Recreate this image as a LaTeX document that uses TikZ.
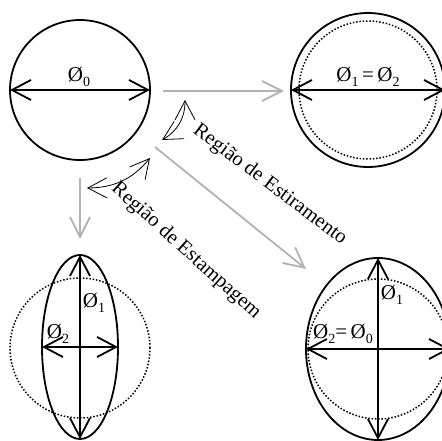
\documentclass[tikz,border=0pt]{standalone}
\usepackage{fontspec}
\setmainfont{Liberation Serif}
\usetikzlibrary{arrows.meta,shapes.geometric}
\newcommand\dia[1]{{\fontsize{21}{22}\selectfont Ø}\raisebox{-0.22em}{\fontsize{14}{14}\selectfont #1}}
\begin{document}
\begin{tikzpicture}[x=1pt,y=-1pt,
  outline/.style={draw, line width=1.8pt, inner sep=0pt, outer sep=0pt},
  dotring/.style={draw, circle, line width=1.5pt, dash pattern=on 1.5pt off 1.8pt, inner sep=0pt, outer sep=0pt},
  dim/.style={line width=1.8pt, {Straight Barb[length=19pt,width=20pt]}-{Straight Barb[length=19pt,width=20pt]}},
  flow/.style={line width=1.8pt, draw=black!30, -{Straight Barb[length=20pt,width=20pt]}},
  bendarrow/.style={line width=0.8pt, {Straight Barb[length=19pt,width=20pt]}-{Straight Barb[length=19pt,width=20pt]}},
  lbl/.style={font=\fontsize{21}{22}\selectfont, inner sep=0pt},
  region/.style={font=\fontsize{20.5}{22}\selectfont, inner sep=0pt}
]
\useasboundingbox (0,0) rectangle (442,441);
\clip (0,0) rectangle (442,441);

% top-left: initial circle
\node[outline, circle, minimum size=140pt] (c0) at (80,90) {};
\draw[dim] (c0.west) -- (c0.east);
\node[lbl] (l0) at (79,77) {\dia{0}};

% top-right: equal stretching
\node[dotring, minimum size=138pt] (d1) at (368,90) {};
\node[outline, circle, minimum size=154pt] (c1) at (368,90) {};
\draw[dim] (c1.west) -- (c1.east);
\node[lbl] (l1) at (368,77) {\dia{1}\,=\,\dia{2}};

% bottom-left: drawing (Estampagem)
\node[dotring, minimum size=140pt] (d2) at (80,348) {};
\node[outline, ellipse, minimum width=76pt, minimum height=184pt] (e2) at (80,347) {};
\draw[dim] (e2.north) -- (e2.south);
\draw[dim] (e2.west) -- (e2.east);
\node[lbl] (l21) at (94,303) {\dia{1}};
\node[lbl] (l22) at (58,334) {\dia{2}};

% bottom-right: stretching (Estiramento)
\node[dotring, minimum size=140pt] (d3) at (378,349) {};
\node[outline, ellipse, minimum width=144pt, minimum height=182pt] (e3) at (378,349) {};
\draw[dim] (e3.north) -- (e3.south);
\draw[dim] (e3.west) -- (e3.east);
\node[lbl] (l31) at (392,295) {\dia{1}};
\node[lbl] (l32) at (343,334) {\dia{2}=\,\dia{0}};

% grey flow arrows
\coordinate (h0) at (163,91);  \coordinate (h1) at (284,91);
\coordinate (s0) at (155,147); \coordinate (s1) at (306,269);
\coordinate (v0) at (80,178);  \coordinate (v1) at (80,239);
\draw[flow] (h0) -- (h1);
\draw[flow] (s0) -- (s1);
\draw[flow] (v0) -- (v1);

% curved double arrows
\coordinate (a0) at (162,140); \coordinate (a1) at (185,100);
\coordinate (b0) at (87,188);  \coordinate (b1) at (150,158);
\draw[bendarrow] (a0) to[bend right=30] (a1);
\draw[bendarrow] (b0) to[bend right=25] (b1);

% region labels
\node[region, rotate=-37] (r1) at (270,185) {Região de Estiramento};
\node[region, rotate=-42] (r2) at (186,251) {Região de Estampagem};
\end{tikzpicture}
\end{document}
